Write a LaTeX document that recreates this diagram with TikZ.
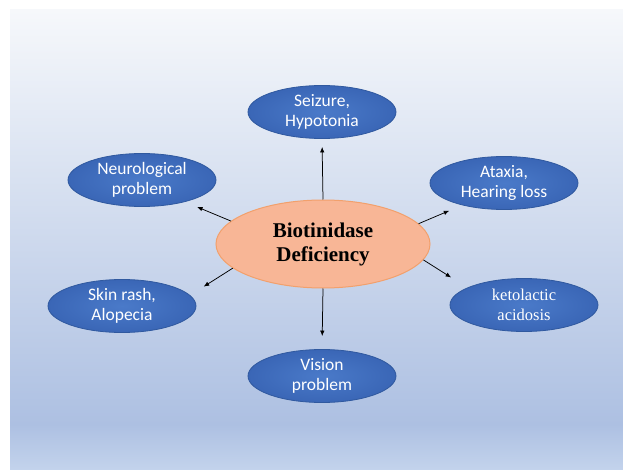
\documentclass[tikz,border=0pt]{standalone}
\usepackage{fontspec}
\setmainfont{Liberation Serif}
\newfontfamily\calibri{Carlito}
\usepackage{xcolor}
\usepackage{tikz}
\usetikzlibrary{arrows.meta,shapes.geometric}

\definecolor{bgtop}{HTML}{F6F8FB}
\definecolor{bgdark}{HTML}{ADC0E2}
\definecolor{bgbot}{HTML}{C3D3EC}
\definecolor{satin}{HTML}{4A7AC9}
\definecolor{satout}{HTML}{3A66B6}
\definecolor{satedge}{HTML}{30599F}
\definecolor{hubfill}{HTML}{F8B696}
\definecolor{hubedge}{HTML}{F2A06C}

\pgfdeclareverticalshading{bgfade}{100bp}{color(0bp)=(bgbot); color(25bp)=(bgbot);
  color(30bp)=(bgdark); color(75bp)=(bgtop); color(100bp)=(bgtop)}

\begin{document}
\begin{tikzpicture}[x=1pt,y=-1pt]
    \tikzstyle{effect} = [ellipse,draw=satedge,line width=0.8pt,inner color=satin,outer color=satout,
        text=white,align=center,minimum width=148pt,minimum height=53pt,inner sep=0pt,
        font=\calibri\fontsize{17.5}{20}\selectfont]
    \tikzstyle{cause} = [ellipse,draw=hubedge,fill=hubfill,line width=1pt,align=center,
        minimum width=214pt,minimum height=88pt,inner sep=0pt,
        font=\bfseries\fontsize{21}{24}\selectfont]
    \tikzstyle{link} = [-{Latex[length=5.5pt,width=4.5pt]},line width=0.75pt]

    \useasboundingbox (0,0) rectangle (623,470);
    \shade[shading=bgfade] (10,10) rectangle (623,470);

    \node[cause] at (323,244) (bd) {Biotinidase\\Deficiency};

    \node[effect] at (322,112) (sz) {Seizure,\\Hypotonia};
    \node[effect] at (142,180) (np) {Neurological\\problem};
    \node[effect] at (504,183) (ax) {Ataxia,\\Hearing loss};
    \node[effect] at (122,306) (sr) {Skin rash,\\Alopecia};
    \node[effect,font=\fontsize{16.5}{20}\selectfont] at (524,305) (kt) {ketolactic\\acidosis};
    \node[effect] at (322,376) (vp) {Vision\\problem};

    \draw[link,shorten >=8pt] (bd.90) -- (sz.-90);
    \draw[link,shorten >=13pt] (bd.-90) -- (vp.90);
    \draw[link,shorten >=13pt] (bd.166) -- (np.-27);
    \draw[link,shorten >=14pt] (bd.12) -- (ax.208);
    \draw[link,shorten >=16pt] (bd.195) -- (sr.9);
    \draw[link,shorten >=19pt] (bd.-9.5) -- (kt.163);

\end{tikzpicture}
\end{document}
